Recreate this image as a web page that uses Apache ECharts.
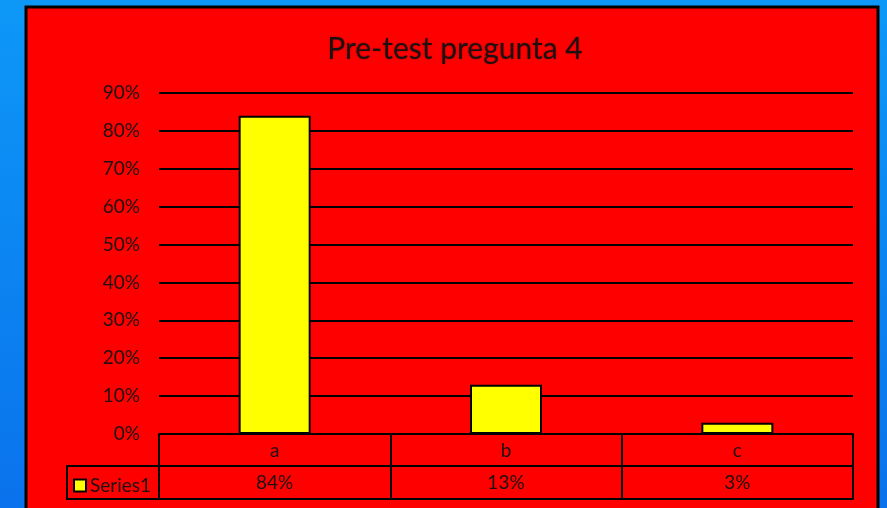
<!DOCTYPE html>
<html>
<head>
<meta charset="utf-8">
<script src="https://cdn.jsdelivr.net/npm/echarts@6/dist/echarts.min.js"></script>
<style>
  html, body { margin: 0; padding: 0; }
  #chart { width: 887px; height: 508px; }
</style>
</head>
<body>
<div id="chart"></div>
<script>
// data
var categories = ["a", "b", "c"];
var series1 = [84, 13, 3];
var seriesName = "Series1";

var txt = "#1e1010";
var font = "Lato";

var chart = echarts.init(document.getElementById("chart"));
chart.setOption({
  backgroundColor: {
    type: "linear", x: 0, y: 0, x2: 0, y2: 1,
    colorStops: [{ offset: 0, color: "#0d98f7" }, { offset: 1, color: "#0a72ec" }]
  },
  title: {
    text: "Pre-test pregunta 4",
    left: 450,
    textAlign: "center",
    top: 29,
    textStyle: {
      fontFamily: font, fontSize: 30, fontWeight: "normal", color: txt,
      textShadowColor: "rgba(0,0,0,0.35)", textShadowBlur: 2
    }
  },
  graphic: [
    {
      type: "rect", z: -10, silent: true,
      shape: { x: 26, y: 7, width: 852, height: 520 },
      style: { fill: "#ff0000", stroke: "#000", lineWidth: 3 }
    },
    {
      type: "rect", z: 5, silent: true,
      shape: { x: 67, y: 466, width: 92, height: 33 },
      style: { fill: "none", stroke: "#000", lineWidth: 2 }
    }
  ],
  legend: {
    data: [seriesName],
    left: 68,
    top: 471,
    itemWidth: 12,
    itemHeight: 12,
    itemGap: 4,
    icon: "rect",
    textStyle: { fontFamily: font, fontSize: 19, color: txt, padding: [0, 0, 0, -1] }
  },
  grid: { left: 159, right: 34, top: 93, bottom: 74 },
  xAxis: [
    {
      type: "category",
      data: categories,
      axisLine: { lineStyle: { color: "#000", width: 2 } },
      axisTick: { show: true, length: 65, lineStyle: { color: "#000", width: 2 } },
      axisLabel: { margin: 7, fontFamily: font, fontSize: 19, color: txt }
    },
    {
      type: "category",
      data: categories,
      position: "bottom",
      offset: 32,
      axisLine: { lineStyle: { color: "#000", width: 2 } },
      axisTick: { show: false },
      axisLabel: {
        margin: 7, fontFamily: font, fontSize: 19, color: txt,
        formatter: function (v, i) { return series1[i] + "%"; }
      }
    },
    {
      type: "category",
      data: categories,
      position: "bottom",
      offset: 65,
      axisLine: { lineStyle: { color: "#000", width: 2 } },
      axisTick: { show: false },
      axisLabel: { show: false }
    }
  ],
  yAxis: {
    type: "value",
    min: 0,
    max: 90,
    interval: 10,
    axisLine: { show: false },
    axisTick: { show: false },
    splitLine: { lineStyle: { color: "#000", width: 2 } },
    axisLabel: { margin: 19, fontFamily: font, fontSize: 19, color: txt, formatter: "{value}%" }
  },
  series: [
    {
      name: seriesName,
      type: "bar",
      xAxisIndex: 0,
      data: series1,
      barWidth: 72,
      itemStyle: { color: "#ffff00", borderColor: "#000", borderWidth: 2 }
    }
  ]
});
</script>
</body>
</html>
